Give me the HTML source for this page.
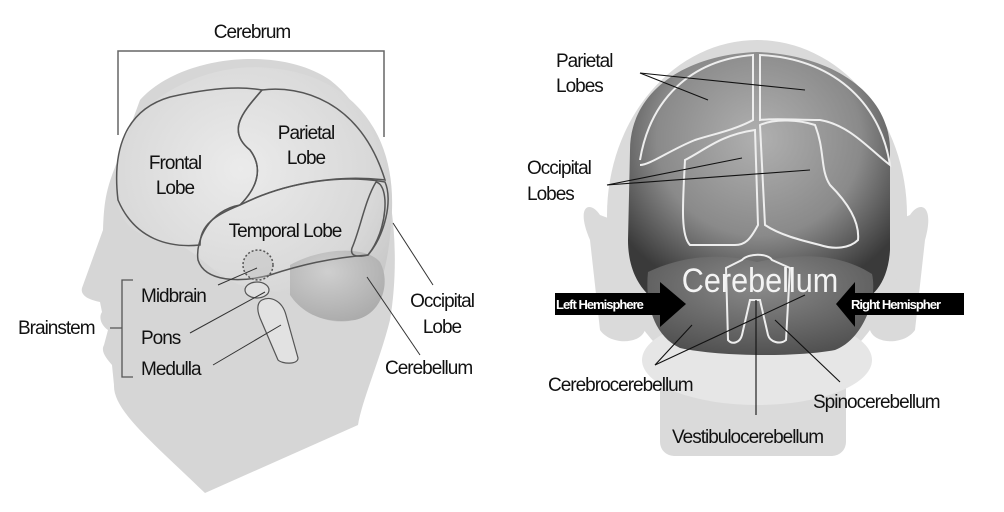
<!DOCTYPE html>
<html><head><meta charset="utf-8"><style>
html,body{margin:0;padding:0;background:#fff;}
svg{display:block;}
text{font-family:"Liberation Sans",sans-serif;fill:#111;}
</style></head><body>
<svg width="1004" height="512" viewBox="0 0 1004 512" xmlns="http://www.w3.org/2000/svg">
<defs>
<radialGradient id="brainL" cx="0.45" cy="0.4" r="0.7">
<stop offset="0" stop-color="#ebebeb"/><stop offset="0.7" stop-color="#d8d8d8"/><stop offset="1" stop-color="#c4c4c4"/>
</radialGradient>
<radialGradient id="cbL" cx="0.4" cy="0.3" r="0.8">
<stop offset="0" stop-color="#cfcfcf"/><stop offset="1" stop-color="#a8a8a8"/>
</radialGradient>
<radialGradient id="brainR" cx="0.5" cy="0.35" r="0.65">
<stop offset="0" stop-color="#b0b0b0"/><stop offset="0.6" stop-color="#8a8a8a"/><stop offset="1" stop-color="#3a3a3a"/>
</radialGradient>
<radialGradient id="cbR" cx="0.5" cy="0.3" r="0.8">
<stop offset="0" stop-color="#8a8a8a"/><stop offset="1" stop-color="#4a4a4a"/>
</radialGradient>
</defs>
<rect width="1004" height="512" fill="#fff"/>

<!-- LEFT HEAD -->
<path d="M118,160 C105,190 104,205 103,230 L82,288 C80,296 90,300 100,302 L102,312 C98,318 102,326 108,330 L104,345 C100,352 108,360 112,365 L114,385 C113,410 150,440 205,493 L358,425 C362,400 380,360 390,320 C402,250 395,130 330,80 C280,45 180,55 140,100 Z" fill="#d6d6d6"/>
<path d="M118,175 C110,110 200,60 270,68 C350,75 395,130 392,210 C390,260 380,300 360,318 C330,330 300,310 290,295 L240,285 C215,275 200,255 180,245 C150,238 125,235 118,205 Z" fill="url(#brainL)"/>
<path d="M290,265 C320,248 365,245 380,262 C392,285 380,315 355,320 C320,325 300,310 290,295 Z" fill="url(#cbL)"/>
<g fill="none" stroke="#555" stroke-width="1.5">
<path d="M118,200 C112,150 125,110 170,97 C210,88 240,86 262,90 C245,110 225,130 250,150 C265,170 255,190 240,205 C215,215 200,225 200,245 C170,248 135,240 118,200 Z"/>
<path d="M262,90 C300,85 360,100 385,180 C345,175 290,180 240,205 C255,190 265,170 250,150 C225,130 245,110 262,90 Z"/>
<path d="M240,205 C290,180 345,175 385,182 C393,200 385,235 368,255 C330,258 300,265 270,275 C240,283 205,282 198,260 C195,240 210,210 240,205 Z"/>
<path d="M376,182 C390,185 388,230 368,255 C355,258 350,255 352,248 C360,230 365,200 376,182 Z"/>
<circle cx="258" cy="265" r="15" stroke-dasharray="2,2" fill="#bbb" fill-opacity="0.4"/>
</g>
<ellipse cx="257" cy="290" rx="12" ry="8" fill="#e0e0e0" stroke="#555" stroke-width="1.2"/>
<path d="M262,300 C270,296 282,300 286,315 L298,358 C298,365 282,364 278,360 L260,318 C256,308 258,302 262,300 Z" fill="#e2e2e2" stroke="#555" stroke-width="1.2"/>

<path d="M118,135 L118,51 L384,51 L384,137" fill="none" stroke="#666" stroke-width="1.5"/>
<path d="M133,280 L122,280 L122,377 L133,377 M110,328 L122,328" fill="none" stroke="#555" stroke-width="1.3"/>
<g stroke="#333" stroke-width="1" fill="none">
<line x1="393" y1="223" x2="433" y2="285"/>
<line x1="367" y1="277" x2="420" y2="355"/>
<line x1="257" y1="268" x2="218" y2="285"/>
<line x1="265" y1="292" x2="190" y2="333"/>
<line x1="281" y1="325" x2="213" y2="365"/>
</g>
<g font-size="19" letter-spacing="-1">
<text x="252" y="38" text-anchor="middle">Cerebrum</text>
<text x="175" y="169" text-anchor="middle">Frontal</text>
<text x="175" y="194" text-anchor="middle">Lobe</text>
<text x="306" y="139" text-anchor="middle">Parietal</text>
<text x="306" y="164" text-anchor="middle">Lobe</text>
<text x="285" y="237" text-anchor="middle">Temporal Lobe</text>
<text x="141" y="302">Midbrain</text>
<text x="141" y="344">Pons</text>
<text x="141" y="375">Medulla</text>
<text x="18" y="334">Brainstem</text>
<text x="442" y="307" text-anchor="middle">Occipital</text>
<text x="442" y="333" text-anchor="middle">Lobe</text>
<text x="385" y="374">Cerebellum</text>
</g>

<!-- RIGHT HEAD -->
<g fill="#dadada">
<path d="M600,215 C590,200 575,205 590,240 L600,330 C610,345 640,345 645,330 L640,230 Z"/>
<path d="M910,215 C920,200 935,205 925,240 L915,330 C905,345 875,345 870,330 L875,230 Z"/>
<rect x="660" y="330" width="186" height="126" rx="14"/>
<ellipse cx="757" cy="215" rx="150" ry="175"/>
</g>
<ellipse cx="757" cy="360" rx="115" ry="45" fill="#e6e6e6"/>
<path d="M630,150 C630,95 680,55 757,52 C835,55 890,95 890,150 L890,250 C888,285 870,300 860,300 L655,300 C640,290 628,270 628,240 Z" fill="url(#brainR)"/>
<path d="M648,272 C690,252 730,255 757,262 C790,255 835,250 872,274 C878,300 862,340 835,350 C800,357 720,357 680,348 C652,335 645,300 648,272 Z" fill="url(#cbR)"/>
<g fill="none" stroke="#eee" stroke-width="2">
<path d="M640,160 C650,100 690,60 753,55 L753,120 C735,130 710,135 695,140 C670,150 650,165 640,165"/>
<path d="M760,55 C830,58 880,100 890,165 C870,150 850,125 820,120 C795,120 775,118 760,120 Z"/>
<path d="M685,160 C705,150 720,135 755,130 L758,225 C750,240 745,245 735,245 L690,245 C680,235 683,200 685,160 Z"/>
<path d="M760,125 C775,118 800,120 815,125 C825,150 820,170 830,185 C845,200 860,220 858,240 C850,248 835,250 820,245 C800,240 780,235 765,225 Z"/>
<path d="M742,260 C748,253 768,253 772,260 L790,268 L786,340 C780,345 770,342 768,335 L760,300 L750,300 L742,335 C740,343 732,345 728,340 L726,268 Z"/>
</g>
<text x="760" y="292" text-anchor="middle" font-size="34" style="fill:#f4f4f4" transform="translate(760,0) scale(0.9,1) translate(-760,0)">Cerebellum</text>
<rect x="555" y="293" width="110" height="22" fill="#000"/>
<polygon points="660,282 686,304 660,327" fill="#000"/>
<rect x="850" y="293" width="114" height="22" fill="#000"/>
<polygon points="855,282 836,304 855,327" fill="#000"/>
<g font-size="13" font-weight="bold" letter-spacing="-1">
<text x="556" y="309" style="fill:#fff">Left Hemisphere</text>
<text x="851" y="309" style="fill:#fff">Right Hemispher</text>
</g>
<g stroke="#111" stroke-width="1.1" fill="none">
<line x1="640" y1="73" x2="708" y2="100"/>
<line x1="640" y1="73" x2="805" y2="90"/>
<line x1="607" y1="185" x2="742" y2="158"/>
<line x1="607" y1="185" x2="810" y2="170"/>
<line x1="655" y1="365" x2="692" y2="325"/>
<line x1="655" y1="365" x2="805" y2="295"/>
<line x1="756" y1="300" x2="756" y2="415"/>
<line x1="840" y1="382" x2="775" y2="320"/>
</g>
<g font-size="19" letter-spacing="-1">
<text x="556" y="67">Parietal</text>
<text x="556" y="92">Lobes</text>
<text x="527" y="174">Occipital</text>
<text x="527" y="200">Lobes</text>
<text x="548" y="391">Cerebrocerebellum</text>
<text x="672" y="443">Vestibulocerebellum</text>
<text x="813" y="408">Spinocerebellum</text>
</g>
</svg>
</body></html>
